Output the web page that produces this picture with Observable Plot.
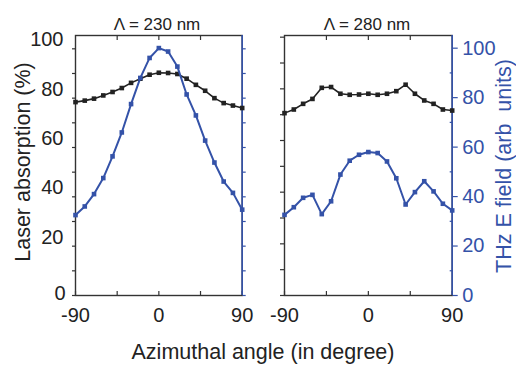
<!DOCTYPE html>
<html><head><meta charset="utf-8">
<script src="https://cdn.jsdelivr.net/npm/d3@7"></script>
<script src="https://cdn.jsdelivr.net/npm/@observablehq/plot@0.6"></script>
<style>
body{margin:0;background:#fff;}
#wrap{position:relative;width:516px;height:365px;font-family:"Liberation Sans",Arial,sans-serif;overflow:hidden;background:#fff}
#wrap svg{position:absolute;top:0}
.lbl{position:absolute;white-space:pre;line-height:1;color:#222}
</style></head><body><div id="wrap"></div>
<script>
// Azimuthal angle (degree)
const angles = [-90,-80,-70,-60,-50,-40,-30,-20,-10,0,10,20,30,40,50,60,70,80,90];
// Λ = 230 nm
const absorption230 = [78.4,79.0,79.8,81.1,82.5,84.1,86.2,87.9,89.5,90.3,90.2,89.8,87.9,85.4,83.0,80.0,78.0,77.0,76.0];
const thz230 = [32.6,36.1,41.1,47.6,56.4,66.1,77.6,88.2,96.3,100.3,98.9,92.8,81.5,73.0,62.8,53.9,46.2,41.6,34.8];
// Λ = 280 nm
const absorption280 = [70.6,72.0,74.2,76.1,80.4,80.7,78.1,77.7,77.8,78.1,77.7,78.1,79.1,81.6,78.1,75.5,74.2,72.0,71.6];
const thz280 = [32.6,35.7,39.5,40.7,32.9,38.1,48.9,54.5,56.9,58.0,57.6,54.2,47.4,36.8,41.8,46.2,42.1,37.1,34.4];
// tick labels
const xTickLabels = [-90, 0, 90];
const xTickMinor = [-45, 45];
const yTickLabels = [0, 20, 40, 60, 80, 100];
const yTickMinor = [10, 30, 50, 70, 90];
const titles = ["\u039B = 230 nm", "\u039B = 280 nm"];

const FONT = '"Liberation Sans", Arial, sans-serif';
const blue = "#3452a8", ink = "#222", frameInk = "#333";
const fmt = d => String(d); // plain hyphen-minus as in the reference

const rows = (abs, thz, k) => angles.map((a, i) => ({a, abs: abs[i], thz: thz[i] * k}));

function frameAndX() {
  return [
    Plot.frame({stroke: frameInk, strokeWidth: 1.4}),
    Plot.axisX({anchor: "bottom", ticks: xTickLabels, tickSize: 0, tickPadding: 12, fontSize: 20, fill: ink, tickFormat: fmt, label: null}),
    Plot.axisX({anchor: "bottom", ticks: [...xTickLabels, ...xTickMinor], tickSize: -4, stroke: frameInk, strokeWidth: 1.2, tickFormat: () => "", label: null}),
    Plot.axisX({anchor: "top", ticks: [-45, 0, 45], tickSize: -4, stroke: frameInk, strokeWidth: 1.2, tickFormat: () => "", label: null})
  ];
}

function dataMarks(data) {
  return [
    Plot.line(data, {x: "a", y: "abs", stroke: ink, strokeWidth: 1.6}),
    Plot.dot(data, {x: "a", y: "abs", symbol: "square", r: 2.6, fill: ink}),
    Plot.line(data, {x: "a", y: "thz", stroke: blue, strokeWidth: 2}),
    Plot.dot(data, {x: "a", y: "thz", symbol: "square", r: 2.6, fill: blue})
  ];
}

// Left panel: one shared 0..100 scale for both series
const d1 = rows(absorption230, thz230, 1);
const p1 = Plot.plot({
  width: 260, height: 330,
  marginLeft: 75, marginRight: 18.3, marginTop: 35, marginBottom: 35,
  style: {fontFamily: FONT, fontSize: "20px", background: "transparent", overflow: "visible"},
  x: {domain: [-90, 90]},
  y: {domain: [0, 105.4]},
  marks: [
    ...frameAndX(),
    Plot.axisY({anchor: "left", ticks: [...yTickLabels, ...yTickMinor], tickSize: 3, stroke: frameInk, strokeWidth: 1.2, tickFormat: () => "", label: null}),
    Plot.axisY({anchor: "left", ticks: yTickLabels.filter(d => d > 0), tickSize: 0, tickPadding: 12, dy: -9, fontSize: 20, fill: ink, tickFormat: fmt, label: null}),
    Plot.axisY({anchor: "left", ticks: [0], tickSize: 0, tickPadding: 10, dy: -2, fontSize: 20, fill: ink, tickFormat: fmt, label: null}),
    Plot.ruleX([90], {stroke: blue, strokeWidth: 1.6}),
    Plot.axisY({anchor: "right", ticks: [...yTickLabels, ...yTickMinor], tickSize: 3, stroke: blue, strokeWidth: 1.2, tickFormat: () => "", label: null}),
    ...dataMarks(d1)
  ]
});

// Right panel: absorption on hidden 0..100 scale, THz on its own (right) scale
const k = 0.9574;
const d2 = rows(absorption280, thz280, k);
const p2 = Plot.plot({
  width: 256, height: 330,
  marginLeft: 24, marginRight: 64.3, marginTop: 35, marginBottom: 35,
  style: {fontFamily: FONT, fontSize: "20px", background: "transparent", overflow: "visible"},
  x: {domain: [-90, 90]},
  y: {domain: [0, 100.65]},
  marks: [
    ...frameAndX(),
    Plot.axisY({anchor: "left", ticks: d3.range(0, 101, 10), tickSize: 4, stroke: frameInk, strokeWidth: 1.2, tickFormat: () => "", label: null}),
    Plot.ruleX([90], {stroke: blue, strokeWidth: 1.6}),
    Plot.axisY({anchor: "right", ticks: yTickLabels.map(v => v * k), tickSize: 5, stroke: blue, strokeWidth: 1.2, tickFormat: () => "", label: null}),
    Plot.axisY({anchor: "right", ticks: yTickMinor.map(v => v * k), tickSize: -3, stroke: blue, strokeWidth: 1.2, tickFormat: () => "", label: null}),
    Plot.axisY({anchor: "right", ticks: yTickLabels.map(v => v * k), tickSize: 0, tickPadding: 10, fontSize: 20, fill: blue, tickFormat: v => String(Math.round(v / k)), label: null}),
    ...dataMarks(d2)
  ]
});

const wrap = document.getElementById("wrap");
p1.style.left = "0px";
p2.style.left = "260px";
wrap.appendChild(p1);
wrap.appendChild(p2);

function label(text, {x, y, size, color = ink, rotate = 0}) {
  const el = document.createElement("div");
  el.className = "lbl";
  el.textContent = text;
  el.style.fontSize = size + "px";
  el.style.color = color;
  el.style.left = x + "px";
  el.style.top = y + "px";
  el.style.transform = `translate(-50%,-50%) rotate(${rotate}deg)`;
  wrap.appendChild(el);
}
label(titles[0], {x: 157, y: 24, size: 17});
label(titles[1], {x: 367, y: 24, size: 17});
label("Azimuthal angle (in degree)", {x: 263, y: 353, size: 21.5});
label("Laser absorption (%)", {x: 24, y: 162, size: 21.5, rotate: -90});
label("THz E field (arb  units)", {x: 505, y: 166, size: 21.5, color: blue, rotate: -90});
</script>
</body></html>
